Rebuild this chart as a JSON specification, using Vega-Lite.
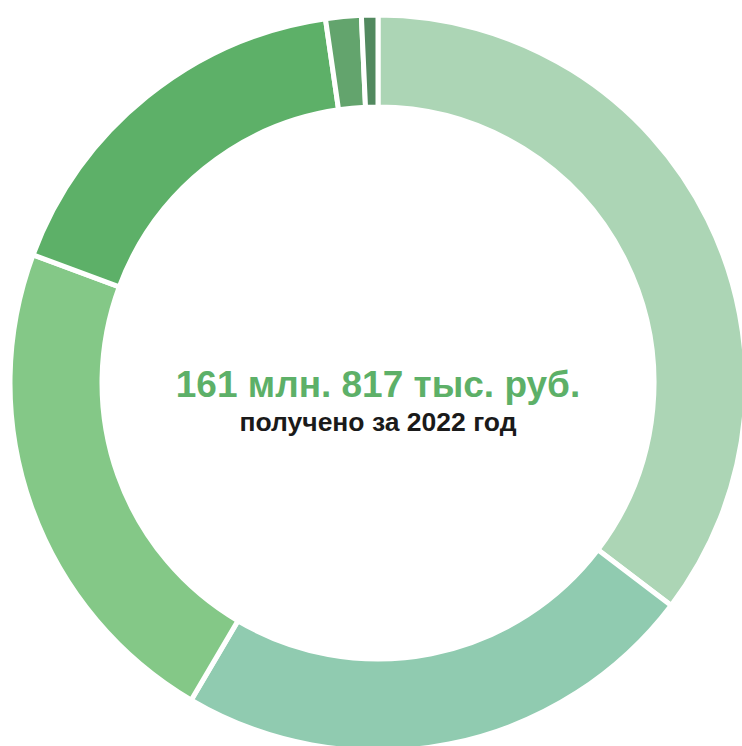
{
  "$schema": "https://vega.github.io/schema/vega-lite/v6.json",
  "autosize": {"type": "none"},
  "width": 732,
  "height": 732,
  "padding": {"left": 12, "top": 17, "right": 0, "bottom": 0},
  "background": "white",
  "view": {"stroke": null},
  "layer": [
    {
      "data": {"values": [
        {"source": "Источник 1", "value": 57170},
        {"source": "Источник 2", "value": 37445},
        {"source": "Источник 3", "value": 35907},
        {"source": "Источник 4", "value": 27606},
        {"source": "Источник 5", "value": 2524},
        {"source": "Источник 6", "value": 1165}
      ]},
      "mark": {"type": "arc", "outerRadius": 368, "innerRadius": 276, "stroke": "white", "strokeWidth": 5},
      "encoding": {
        "theta": {"field": "value", "type": "quantitative", "stack": true},
        "color": {
          "field": "source", "type": "nominal", "legend": null,
          "scale": {
            "domain": ["Источник 1", "Источник 2", "Источник 3", "Источник 4", "Источник 5", "Источник 6"],
            "range": ["#acd5b5", "#90cbb0", "#84c887", "#5db068", "#63a46d", "#52895f"]
          }
        }
      }
    },
    {
      "data": {"values": [{"label": "161 млн. 817 тыс. руб."}]},
      "mark": {"type": "text", "font": "Liberation Sans", "fontWeight": "bold", "fontSize": 37, "color": "#5db068", "align": "center", "baseline": "alphabetic", "dy": 14},
      "encoding": {"text": {"field": "label"}}
    },
    {
      "data": {"values": [{"label": "получено за 2022 год"}]},
      "mark": {"type": "text", "font": "Liberation Sans", "fontWeight": "bold", "fontSize": 26.5, "color": "#1a1a1a", "align": "center", "baseline": "alphabetic", "dy": 48},
      "encoding": {"text": {"field": "label"}}
    }
  ]
}
